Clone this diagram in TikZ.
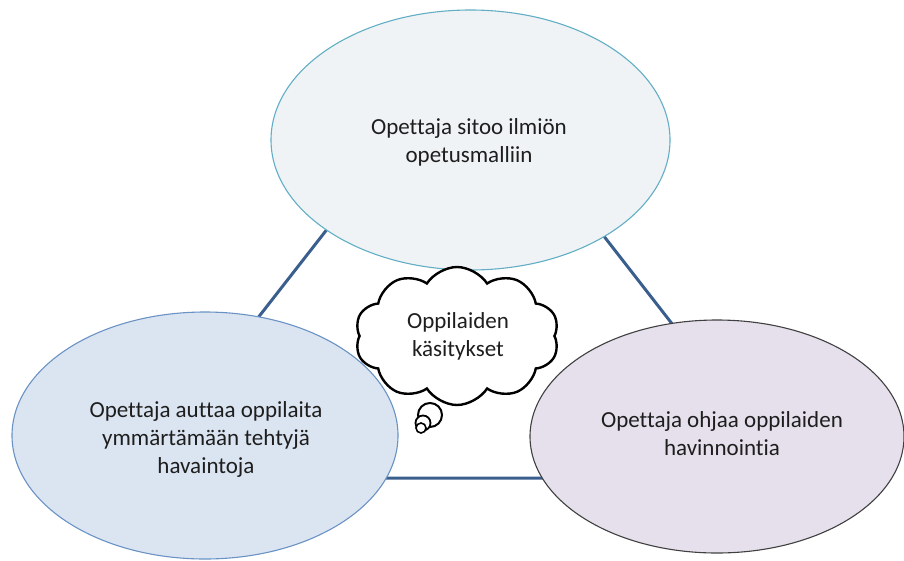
\documentclass[tikz,border=0pt]{standalone}
\usepackage{fontspec}
\setmainfont[Ligatures=NoCommon]{Carlito}
\usetikzlibrary{shapes.symbols,shapes.geometric}
\definecolor{linkblue}{HTML}{3A5F8E}
\definecolor{topfill}{HTML}{EFF3F5}
\definecolor{topdraw}{HTML}{62AEC5}
\definecolor{leftfill}{HTML}{DBE5F1}
\definecolor{leftdraw}{HTML}{6A92C4}
\definecolor{rightfill}{HTML}{E5E0EC}
\definecolor{rightdraw}{HTML}{404040}
\definecolor{inktext}{HTML}{1E1E1E}
\tikzset{
  bubble/.style={ellipse, line width=1.1pt, inner sep=0pt},
  label text/.style={text=inktext, align=center, font=\fontsize{23}{28}\selectfont},
  link/.style={draw=linkblue, line width=3pt},
  thought/.style={draw=black, line width=2.4pt, fill=white},
}
\begin{document}
\begin{tikzpicture}[x=1pt,y=-1pt]
\useasboundingbox (0,0) rectangle (904,560);

% triangle joining the three roles, behind the ellipses
\coordinate (apex) at (463,55);
\coordinate (bl) at (133,478);
\coordinate (br) at (792,478);
\draw[link] (apex) -- (bl) -- (br) -- cycle;

% the three teacher roles
\node[bubble, fill=topfill, draw=topdraw, minimum width=399pt, minimum height=260pt]
  (top) at (470.5,140) {};
\node[label text] (toptext) at (469,142)
  {Opettaja sitoo ilmiön\\opetusmalliin};

\node[bubble, fill=leftfill, draw=leftdraw, minimum width=386pt, minimum height=247pt]
  (left) at (205,435.5) {};
\node[label text] (lefttext) at (206,439)
  {Opettaja auttaa oppilaita\\ymmärtämään tehtyjä\\havaintoja};

\node[bubble, fill=rightfill, draw=rightdraw, minimum width=374pt, minimum height=233pt]
  (right) at (717,436.5) {};
\node[label text] (righttext) at (722,434)
  {Opettaja ohjaa oppilaiden\\havinnointia};

% students' conceptions as a thought cloud
\node[cloud, thought, cloud puffs=10, cloud puff arc=115, cloud ignores aspect,
  minimum width=204pt, minimum height=138pt, inner sep=0pt] (cloud) at (457,336) {};
\node[label text] (cloudtext) at (458,336)
  {Oppilaiden\\käsitykset};
\node[circle, draw=black, line width=2pt, fill=white, minimum size=24pt, inner sep=0pt]
  (dot1) at (430,415) {};
\node[circle, draw=black, line width=1.8pt, fill=white, minimum size=15pt, inner sep=0pt]
  (dot2) at (423,423) {};
\node[circle, draw=black, line width=1.6pt, fill=white, minimum size=10pt, inner sep=0pt]
  (dot3) at (421,428) {};
\end{tikzpicture}
\end{document}
